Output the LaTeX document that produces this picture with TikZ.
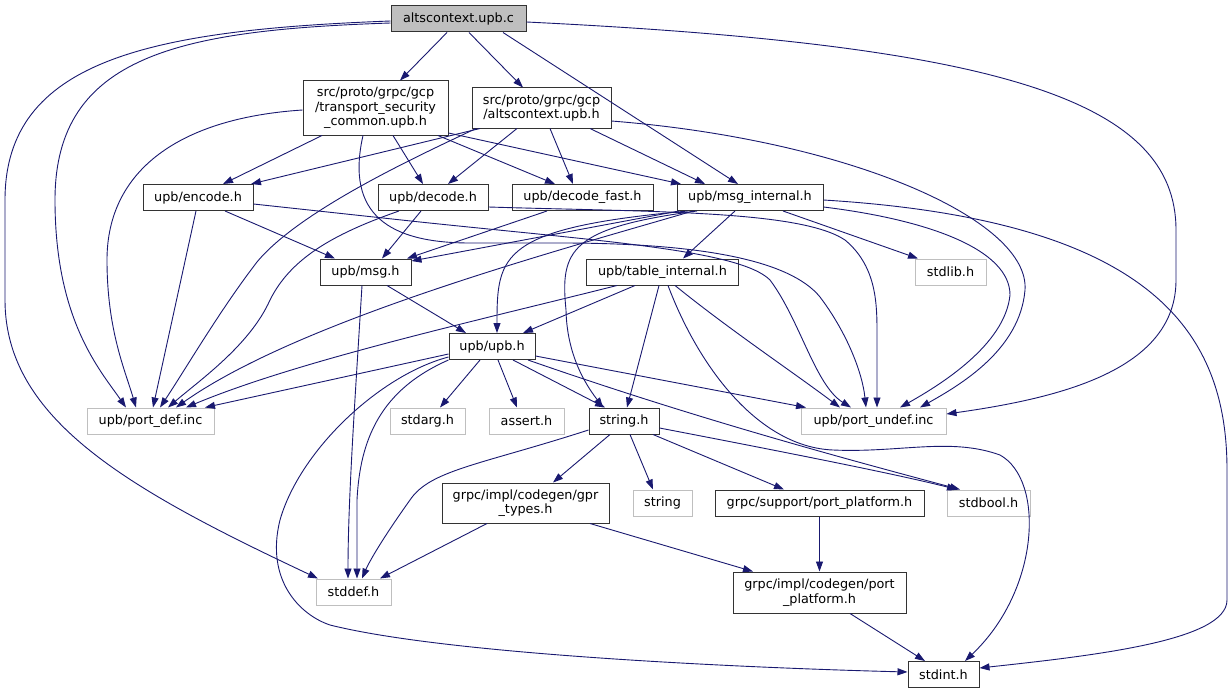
\documentclass[tikz,border=0pt]{standalone}
\usepackage{fontspec}
\setmainfont{DejaVu Sans}
\usetikzlibrary{arrows.meta}
\definecolor{edgec}{HTML}{191970}
\definecolor{grayb}{HTML}{BFBFBF}
\begin{document}
\begin{tikzpicture}[x=1pt,y=-1pt,
  base/.style={rectangle, inner sep=0pt, align=center, line width=1pt, font=\fontsize{12.8}{14.5}\selectfont, fill=white},
  doc/.style={base, draw=black!80},
  ext/.style={base, draw=grayb},
  rootn/.style={base, draw=black!80, fill=grayb},
  e/.style={draw=edgec, line width=0.9pt, -{Triangle[length=10pt,width=7pt]}},
]
\useasboundingbox[fill=white] (0,0) rectangle (1232,693);
% nodes
\node[rootn, minimum width=135pt, minimum height=26pt] (root) at (458.5,19) {altscontext.upb.c};
\node[doc, minimum width=145pt, minimum height=54pt] (tsc) at (375.5,108) {src/proto/grpc/gcp\\/transport\_security\\\_common.upb.h};
\node[doc, minimum width=139pt, minimum height=40pt] (altsh) at (541.5,108) {src/proto/grpc/gcp\\/altscontext.upb.h};
\node[doc, minimum width=110pt, minimum height=26pt] (enc) at (198,197.5) {upb/encode.h};
\node[doc, minimum width=110pt, minimum height=26pt] (dec) at (433,197.5) {upb/decode.h};
\node[doc, minimum width=141pt, minimum height=26pt] (decf) at (582.5,197.5) {upb/decode\_fast.h};
\node[doc, minimum width=146pt, minimum height=26pt] (mi) at (750,197.5) {upb/msg\_internal.h};
\node[doc, minimum width=91pt, minimum height=26pt] (msg) at (365.5,272) {upb/msg.h};
\node[doc, minimum width=152pt, minimum height=26pt] (ti) at (662.5,272) {upb/table\_internal.h};
\node[ext, minimum width=71pt, minimum height=26pt] (stdlib) at (950.5,272) {stdlib.h};
\node[doc, minimum width=86pt, minimum height=26pt] (upb) at (492,346.5) {upb/upb.h};
\node[ext, minimum width=127pt, minimum height=26pt] (pd) at (150.5,421) {upb/port\_def.inc};
\node[ext, minimum width=75pt, minimum height=26pt] (stdarg) at (427.5,421) {stdarg.h};
\node[ext, minimum width=75pt, minimum height=26pt] (assert) at (526.5,421) {assert.h};
\node[doc, minimum width=70pt, minimum height=26pt] (str) at (624,421) {string.h};
\node[ext, minimum width=145pt, minimum height=26pt] (pu) at (873.5,421) {upb/port\_undef.inc};
\node[doc, minimum width=167pt, minimum height=40pt] (gpr) at (525.5,503) {grpc/impl/codegen/gpr\\\_types.h};
\node[ext, minimum width=59pt, minimum height=26pt] (string) at (662.5,503) {string};
\node[doc, minimum width=209pt, minimum height=26pt] (spp) at (819.5,503) {grpc/support/port\_platform.h};
\node[ext, minimum width=83pt, minimum height=26pt] (stdbool) at (988.5,503) {stdbool.h};
\node[ext, minimum width=75pt, minimum height=26pt] (stddef) at (353.5,592) {stddef.h};
\node[doc, minimum width=173pt, minimum height=41pt] (cpp) at (819.5,592.5) {grpc/impl/codegen/port\\\_platform.h};
\node[doc, minimum width=71pt, minimum height=26pt] (stdint) at (943.5,674.5) {stdint.h};
% edges from root
\draw[e] (447,0 |- root.south) -- (400,0 |- tsc.north);
\draw[e] (469,0 |- root.south) -- (523,0 |- altsh.north);
\draw[e] (503,0 |- root.south) -- (738,0 |- mi.north);
\draw[e] (root.east |- 0,22) .. controls (1000,45) and (1176,100) .. (1176,230) -- (1176,280) .. controls (1176,370) and (1060,398) .. (pu.east |- 0,414);
\draw[e] (root.west |- 0,23) .. controls (180,30) and (55,55) .. (55,200) .. controls (55,320) and (100,370) .. (126,0 |- pd.north);
\draw[e] (root.west |- 0,21) .. controls (150,30) and (5,60) .. (5,200) -- (5,300) .. controls (5,420) and (130,490) .. (318,0 |- stddef.north);
% edges from transport_security_common
\draw[e] (tsc.west |- 0,110) .. controls (180,118) and (107,170) .. (107,260) .. controls (107,330) and (125,370) .. (136,0 |- pd.north);
\draw[e] (322,0 |- tsc.south) -- (223,0 |- enc.north);
\draw[e] (393,0 |- tsc.south) -- (423,0 |- dec.north);
\draw[e] (438,0 |- tsc.south) -- (555,0 |- decf.north);
\draw[e] (tsc.east |- 0,133) -- (681,0 |- mi.north);
\draw[e] (363,0 |- tsc.south) .. controls (345,215) and (390,243) .. (470,243) -- (560,243) .. controls (700,243) and (790,260) .. (820,297) .. controls (845,330) and (862,370) .. (866,0 |- pu.north);
% edges from altscontext.upb.h
\draw[e] (480,0 |- altsh.south) -- (251,0 |- enc.north);
\draw[e] (476,0 |- altsh.south) .. controls (420,155) and (300,210) .. (257,262) .. controls (220,310) and (185,370) .. (160,0 |- pd.north);
\draw[e] (517,0 |- altsh.south) -- (448,0 |- dec.north);
\draw[e] (550,0 |- altsh.south) -- (573,0 |- decf.north);
\draw[e] (590,0 |- altsh.south) -- (705,0 |- mi.north);
\draw[e] (altsh.east |- 0,121) .. controls (850,140) and (1030,220) .. (1025,290) .. controls (1020,350) and (960,385) .. (920,0 |- pu.north);
% edges from msg_internal
\draw[e] (mi.east |- 0,200) .. controls (1150,220) and (1227,330) .. (1227,470) -- (1227,600) .. controls (1227,640) and (1100,655) .. (stdint.east |- 0,668);
\draw[e] (783,0 |- mi.south) -- (918,0 |- stdlib.north);
\draw[e] (735,0 |- mi.south) -- (683,0 |- ti.north);
\draw[e] (679,0 |- mi.south) -- (msg.east |- 0,261);
\draw[e] (693,0 |- mi.south) .. controls (560,250) and (300,320) .. (176,0 |- pd.north);
\draw[e] (688,0 |- mi.south) .. controls (500,228) and (497,255) .. (497,0 |- upb.north);
\draw[e] (697,0 |- mi.south) .. controls (570,228) and (560,250) .. (566,310) .. controls (567,360) and (590,390) .. (603,0 |- str.north);
\draw[e] (mi.east |- 0,207) .. controls (930,220) and (1010,250) .. (1010,295) .. controls (1005,345) and (940,385) .. (900,0 |- pu.north);
% edges from encode / decode / decode_fast
\draw[e] (225,0 |- enc.south) -- (335,0 |- msg.north);
\draw[e] (196,0 |- enc.south) -- (153,0 |- pd.north);
\draw[e] (enc.east |- 0,204) -- (420,222) .. controls (600,241) and (740,250) .. (770,280) .. controls (800,320) and (815,385) .. (851,0 |- pu.north);
\draw[e] (421,0 |- dec.south) -- (382,0 |- msg.north);
\draw[e] (399,0 |- dec.south) .. controls (330,235) and (290,260) .. (270,300) .. controls (250,345) and (200,380) .. (168,0 |- pd.north);
\draw[e] (dec.east |- 0,207) .. controls (650,212) and (800,210) .. (845,240) .. controls (875,265) and (877,300) .. (877,330) -- (877,0 |- pu.north);
\draw[e] (547,0 |- decf.south) -- (407,0 |- msg.north);
% edges from msg.h
\draw[e] (387,0 |- msg.south) -- (466,0 |- upb.north);
\draw[e] (362,0 |- msg.south) .. controls (355,400) and (348,500) .. (348,0 |- stddef.north);
% edges from table_internal
\draw[e] (617,0 |- ti.south) .. controls (480,320) and (300,360) .. (186,0 |- pd.north);
\draw[e] (635,0 |- ti.south) -- (523,0 |- upb.north);
\draw[e] (659,0 |- ti.south) -- (627,0 |- str.north);
\draw[e] (668,0 |- ti.south) .. controls (700,370) and (760,447) .. (833,450) .. controls (900,453) and (950,437) .. (1000,455) .. controls (1045,480) and (1040,590) .. (965,0 |- stdint.north);
\draw[e] (675,0 |- ti.south) .. controls (730,330) and (790,370) .. (840,0 |- pu.north);
% edges from upb.h
\draw[e] (480,0 |- upb.south) -- (440,0 |- stdarg.north);
\draw[e] (498,0 |- upb.south) -- (517,0 |- assert.north);
\draw[e] (513,0 |- upb.south) -- (605,0 |- str.north);
\draw[e] (528,0 |- upb.south) .. controls (700,420) and (850,460) .. (960,0 |- stdbool.north);
\draw[e] (upb.east |- 0,356) -- (806,0 |- pu.north);
\draw[e] (upb.west |- 0,354) -- (205,0 |- pd.north);
\draw[e] (upb.south west) .. controls (380,390) and (360,440) .. (357,500) -- (357,0 |- stddef.north);
\draw[e] (upb.west |- 0,357) .. controls (380,375) and (300,450) .. (280,520) .. controls (265,580) and (300,615) .. (330,625) .. controls (450,655) and (750,668) .. (stdint.west |- 0,672);
% edges from string.h
\draw[e] (str.west |- 0,430) .. controls (480,465) and (430,470) .. (410,500) .. controls (385,535) and (370,560) .. (362,0 |- stddef.north);
\draw[e] (610,0 |- str.south) -- (553,0 |- gpr.north);
\draw[e] (630,0 |- str.south) -- (653,0 |- string.north);
\draw[e] (653,0 |- str.south) -- (784,0 |- spp.north);
\draw[e] (str.east |- 0,428) .. controls (800,455) and (900,475) .. (957,0 |- stdbool.north);
% remaining
\draw[e] (487,0 |- gpr.south) -- (380,0 |- stddef.north);
\draw[e] (590,0 |- gpr.south) -- (753,0 |- cpp.north);
\draw[e] (spp.south) -- (cpp.north);
\draw[e] (850,0 |- cpp.south) -- (925,0 |- stdint.north);
\end{tikzpicture}
\end{document}
